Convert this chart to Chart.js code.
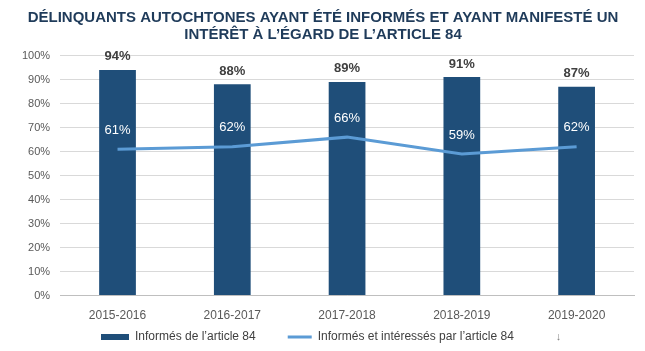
<!DOCTYPE html>
<html>
<head>
<meta charset="utf-8">
<script src="https://cdn.jsdelivr.net/npm/chart.js@4/dist/chart.umd.min.js"></script>
<style>
  html, body { margin: 0; padding: 0; background: #fff; }
  #wrap { width: 645px; height: 351px; }
</style>
</head>
<body>
<div id="wrap"><canvas id="chart"></canvas></div>
<script>
const years = ['2015-2016', '2016-2017', '2017-2018', '2018-2019', '2019-2020'];
const informes = [94, 88, 89, 91, 87];
const interesses = [61, 62, 66, 59, 62];
const titleLines = [
  'DÉLINQUANTS AUTOCHTONES AYANT ÉTÉ INFORMÉS ET AYANT MANIFESTÉ UN',
  'INTÉRÊT À L’ÉGARD DE L’ARTICLE 84'
];
const legendNote = '↓';

const BAR_COLOR = '#1f4e79';
const LINE_COLOR = '#5b9bd5';

// draws the value labels (no datalabels plugin available)
const valueLabels = {
  id: 'valueLabels',
  afterDatasetsDraw(chart) {
    const ctx = chart.ctx;
    ctx.save();
    ctx.textAlign = 'center';
    ctx.textBaseline = 'middle';
    chart.getDatasetMeta(0).data.forEach((el, i) => {
      ctx.font = 'bold 13px "Liberation Sans", Arial, sans-serif';
      ctx.fillStyle = '#404040';
      ctx.fillText(informes[i] + '%', el.x, el.y - 13);
    });
    chart.getDatasetMeta(1).data.forEach((el, i) => {
      ctx.font = '13px "Liberation Sans", Arial, sans-serif';
      ctx.fillStyle = '#ffffff';
      ctx.fillText(interesses[i] + '%', el.x, el.y - 19);
    });
    ctx.restore();
  }
};

// legend drawn by hand so the spacing matches
const bottomLegend = {
  id: 'bottomLegend',
  afterDraw(chart) {
    const ctx = chart.ctx;
    const ds = chart.data.datasets;
    const y = 337;
    let x = 101;
    ctx.save();
    ctx.font = '12px "Liberation Sans", Arial, sans-serif';
    ctx.textBaseline = 'middle';
    ctx.fillStyle = BAR_COLOR;
    ctx.fillRect(x, y - 3, 28, 6);
    x += 34;
    ctx.fillStyle = '#404040';
    ctx.fillText(ds[0].label, x, y);
    x += ctx.measureText(ds[0].label).width + 32;
    ctx.strokeStyle = LINE_COLOR;
    ctx.lineWidth = 3;
    ctx.beginPath();
    ctx.moveTo(x, y);
    ctx.lineTo(x + 24, y);
    ctx.stroke();
    x += 30;
    ctx.fillText(ds[1].label, x, y);
    x += ctx.measureText(ds[1].label).width + 42;
    ctx.fillStyle = '#808080';
    ctx.font = '11px "Liberation Sans", Arial, sans-serif';
    ctx.fillText(legendNote, x, y);
    ctx.restore();
  }
};

new Chart(document.getElementById('chart'), {
  data: {
    labels: years,
    datasets: [
      {
        type: 'bar',
        label: 'Informés de l’article 84',
        data: informes,
        backgroundColor: BAR_COLOR,
        categoryPercentage: 1,
        barPercentage: 0.32,
        order: 2
      },
      {
        type: 'line',
        label: 'Informés et intéressés par l’article 84',
        data: interesses,
        borderColor: LINE_COLOR,
        backgroundColor: LINE_COLOR,
        borderWidth: 3,
        pointRadius: 0,
        tension: 0,
        order: 1
      }
    ]
  },
  options: {
    responsive: true,
    maintainAspectRatio: false,
    animation: false,
    layout: { padding: { left: 12, right: 11, bottom: 23 } },
    scales: {
      x: {
        grid: { display: false },
        border: { display: true, color: '#bfbfbf' },
        ticks: {
          color: '#595959',
          font: { size: 12, family: '"Liberation Sans", sans-serif' },
          padding: 5
        }
      },
      y: {
        min: 0,
        max: 100,
        ticks: {
          stepSize: 10,
          color: '#595959',
          padding: 10,
          font: { size: 11, family: '"Liberation Sans", Arial, sans-serif' },
          callback: v => v + '%'
        },
        grid: { color: '#d9d9d9', drawTicks: false },
        border: { display: false }
      }
    },
    plugins: {
      title: {
        display: true,
        text: titleLines,
        color: '#1f3b5a',
        font: { size: 15, weight: 'bold', family: '"Liberation Sans", sans-serif', lineHeight: 1.15 },
        padding: { top: 9, bottom: 12 }
      },
      legend: { display: false },
      tooltip: { enabled: false }
    }
  },
  plugins: [valueLabels, bottomLegend]
});
</script>
</body>
</html>
